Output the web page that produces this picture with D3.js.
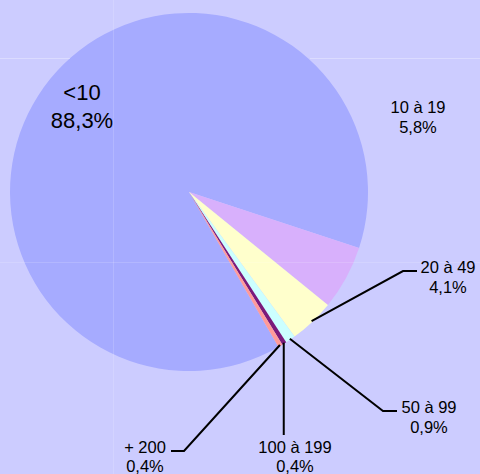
<!DOCTYPE html>
<meta charset="utf-8">
<style>
body { margin: 0; background: #ccccff; }
svg { display: block; font-family: "Liberation Sans", Arial, sans-serif; }
</style>
<svg id="chart" width="480" height="474"></svg>
<script src="https://cdn.jsdelivr.net/npm/d3@7"></script>
<script>
// data
var categories = ["<10", "10 à 19", "20 à 49", "50 à 99", "100 à 199", "+ 200"];
var values = [88.3, 5.8, 4.1, 0.9, 0.4, 0.4];
var valueLabels = ["88,3%", "5,8%", "4,1%", "0,9%", "0,4%", "0,4%"];

var colors = ["#a6abff", "#d8b0fc", "#ffffcc", "#ccffff", "#7a1a7a", "#ff9a9a"];

var width = 480, height = 474,
    cx = 189, cy = 192, radius = 179;

var svg = d3.select("#chart");

svg.append("rect").attr("width", width).attr("height", height).attr("fill", "#ccccff");

var data = categories.map(function(c, i) {
  return {name: c, value: values[i], label: valueLabels[i], color: colors[i]};
});

var start = -210 * Math.PI / 180;
var pie = d3.pie().sort(null).value(function(d) { return d.value; })
    .startAngle(start).endAngle(start + 2 * Math.PI);
var arc = d3.arc().innerRadius(0).outerRadius(radius);

var g = svg.append("g").attr("transform", "translate(" + cx + "," + cy + ")");
var arcs = pie(data);

g.selectAll("path").data(arcs).enter().append("path")
  .attr("d", arc)
  .attr("fill", function(d) { return d.data.color; });

// faint seams over the plot
svg.append("line").attr("x1", 113.5).attr("x2", 113.5).attr("y1", 0).attr("y2", height)
  .attr("stroke", "#ffffff").attr("stroke-opacity", 0.15);
svg.append("line").attr("x1", 0).attr("x2", width).attr("y1", 262.5).attr("y2", 262.5)
  .attr("stroke", "#ffffff").attr("stroke-opacity", 0.15);
svg.append("line").attr("x1", 0).attr("x2", 70).attr("y1", 58.5).attr("y2", 58.5)
  .attr("stroke", "#ffffff").attr("stroke-opacity", 0.3);
svg.append("line").attr("x1", 310).attr("x2", width).attr("y1", 58.5).attr("y2", 58.5)
  .attr("stroke", "#ffffff").attr("stroke-opacity", 0.3);

// label placement (text centre x, first baseline y, leader elbow, leader end)
var labelPos = [
  {x: 82, y: 100, size: 22, gap: 28},
  {x: 418, y: 113, size: 16.5, gap: 20},
  {x: 448, y: 273, size: 16.5, gap: 20, elbow: [403, 271], end: [417, 271]},
  {x: 429, y: 413, size: 16.5, gap: 20, elbow: [383, 411], end: [397, 411]},
  {x: 295, y: 453, size: 16.5, gap: 19, elbow: null, end: [286, 435], vertical: true},
  {x: 145, y: 453, size: 16.5, gap: 19, elbow: [184, 451], end: [171, 451]}
];

arcs.forEach(function(a, i) {
  var p = labelPos[i];
  if (p.end) {
    var mid = (a.startAngle + a.endAngle) / 2;
    var sx = cx + Math.sin(mid) * (radius - 1),
        sy = cy - Math.cos(mid) * (radius - 1);
    var pts = [[sx, sy]];
    if (p.vertical) pts.push([sx, p.end[1]]);
    else { pts.push(p.elbow); pts.push(p.end); }
    svg.append("path")
      .attr("d", d3.line()(pts))
      .attr("fill", "none")
      .attr("stroke", "#000")
      .attr("stroke-width", 2);
  }
  var t = svg.append("text")
    .attr("text-anchor", "middle")
    .attr("font-size", p.size)
    .attr("fill", "#000");
  t.append("tspan").attr("x", p.x).attr("y", p.y).text(a.data.name);
  t.append("tspan").attr("x", p.x).attr("y", p.y + p.gap).text(a.data.label);
});
</script>
